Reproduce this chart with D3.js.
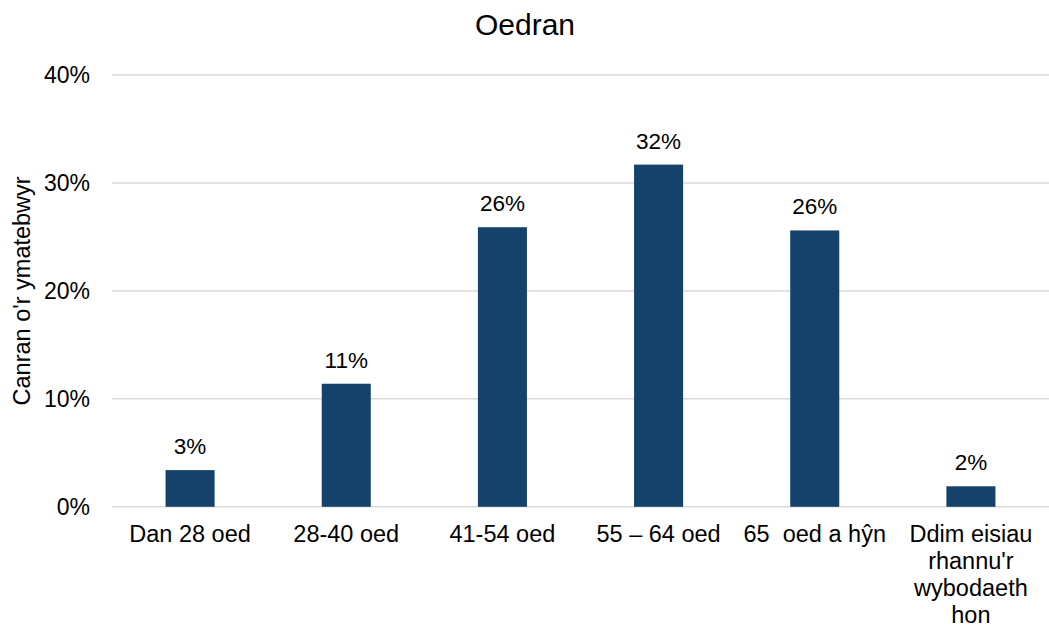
<!DOCTYPE html>
<html>
<head>
<meta charset="utf-8">
<script src="https://cdn.jsdelivr.net/npm/d3@7"></script>
<style>
  body { margin: 0; background: #fff; }
  text { font-family: "Liberation Sans", Arial, sans-serif; fill: #000; }
</style>
</head>
<body>
<svg id="chart" width="1049" height="629"></svg>
<script>
const categories = ['Dan 28 oed', '28-40 oed', '41-54 oed', '55 \u2013 64 oed', '65  oed a h\u0177n', "Ddim eisiau rhannu'r wybodaeth hon"]
const values = [3.4, 11.4, 25.9, 31.7, 25.6, 1.9]
const yTicks = [0, 10, 20, 30, 40]
const title = 'Oedran'
const yTitle = "Canran o'r ymatebwyr"

const width = 1049,
    height = 629,
    margin = { top: 75, right: 0, bottom: 123, left: 112 }

const svg = d3.select('#chart')

const x = d3.scaleBand()
    .domain(categories)
    .range([margin.left, width - margin.right])
    .paddingInner(0.686)
    .paddingOuter(0.343)

const y = d3.scaleLinear()
    .domain([0, 40])
    .range([height - margin.bottom + 0.8, margin.top])

// gridlines
svg.append('g')
    .selectAll('line')
    .data(yTicks)
    .join('line')
    .attr('x1', margin.left)
    .attr('x2', width - margin.right)
    .attr('y1', d => y(d))
    .attr('y2', d => y(d))
    .attr('stroke', '#d9d9d9')
    .attr('stroke-width', 1.5)

// y tick labels
svg.append('g')
    .selectAll('text')
    .data(yTicks)
    .join('text')
    .attr('x', 90)
    .attr('y', d => y(d))
    .attr('dy', '0.35em')
    .attr('text-anchor', 'end')
    .style('font-size', '23px')
    .text(d => d + '%')

// bars
svg.append('g')
    .selectAll('rect')
    .data(values)
    .join('rect')
    .attr('x', (d, i) => x(categories[i]))
    .attr('width', x.bandwidth())
    .attr('y', d => y(d))
    .attr('height', d => y(0) - y(d))
    .attr('fill', '#14426b')

// value labels
svg.append('g')
    .selectAll('text')
    .data(values)
    .join('text')
    .attr('x', (d, i) => x(categories[i]) + x.bandwidth() / 2)
    .attr('y', d => y(d) - 16)
    .attr('text-anchor', 'middle')
    .style('font-size', '22.5px')
    .text(d => Math.round(d) + '%')

// category labels, wrapped to the band step
const step = x.step()
const catLabels = svg.append('g')
    .selectAll('text')
    .data(categories)
    .join('text')
    .attr('x', d => x(d) + x.bandwidth() / 2)
    .attr('y', 542)
    .attr('text-anchor', 'middle')
    .style('font-size', '23.5px')
    .style('white-space', 'pre')

catLabels.each(function(d) {
    const t = d3.select(this)
    const cx = +t.attr('x')
    const words = d.includes('  ') ? [d] : d.split(' ')
    let line = []
    let tspan = t.append('tspan').attr('x', cx).attr('dy', 0)
    words.forEach(w => {
        line.push(w)
        tspan.text(line.join(' '))
        if (tspan.node().getComputedTextLength() > step - 20 && line.length > 1) {
            line.pop()
            tspan.text(line.join(' '))
            line = [w]
            tspan = t.append('tspan').attr('x', cx).attr('dy', 27).text(w)
        }
    })
})

// title
svg.append('text')
    .attr('x', 525)
    .attr('y', 35)
    .attr('text-anchor', 'middle')
    .style('font-size', '30px')
    .text(title)

// y axis title
svg.append('text')
    .attr('transform', `translate(30, ${(y(0) + y(40)) / 2}) rotate(-90)`)
    .attr('text-anchor', 'middle')
    .style('font-size', '23.5px')
    .text(yTitle)
</script>
</body>
</html>
